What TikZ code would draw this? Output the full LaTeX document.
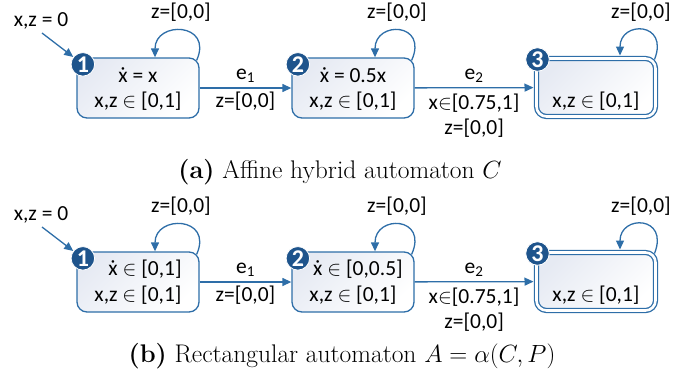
\documentclass[tikz,border=0pt]{standalone}
\usepackage{fontspec}
\newfontfamily\calfont{Carlito}
\usetikzlibrary{arrows.meta}
\definecolor{lblue}{RGB}{46,110,168}
\definecolor{bdark}{RGB}{30,84,140}
\definecolor{boxshade}{RGB}{230,234,243}
\begin{document}
\begin{tikzpicture}[x=1pt,y=-1pt,
  txt/.style={inner sep=0pt, font=\calfont\fontsize{21.5}{24}\selectfont},
  box/.style={draw=lblue, line width=1.3pt, rounded corners=10pt, top color=boxshade, bottom color=white, shading angle=45, minimum width=122pt, minimum height=60pt, inner sep=0pt},
  fbox/.style={box, double=white, double distance=2.6pt, minimum width=119pt, minimum height=58pt, outer sep=3pt},
  badge/.style={circle, fill=bdark, draw=white, line width=0.8pt, minimum size=23.5pt, inner sep=0pt, text=white, font=\calfont\bfseries\fontsize{24}{24}\selectfont},
  arr/.style={draw=lblue, line width=1.3pt, -{Triangle[length=9pt,width=8pt]}},
  captext/.style={inner sep=0pt, font=\fontsize{25.5}{28}\selectfont}
]
\useasboundingbox (0,0) rectangle (673,386);
% ---------- top (a)
\node[box] (b1) at (138,88) {};
\node[box] (b2) at (353,88) {};
\node[fbox] (b3) at (596,87.5) {};
\node[badge] (n1) at ([shift={(6.5,7)}]b1.north west) {1};
\node[badge] (n2) at ([shift={(6.5,7)}]b2.north west) {2};
\node[badge] (n3) at ([shift={(4,4)}]b3.north west) {3};
\node[txt] (t11) at ([yshift=12.5pt]b1.center) {ẋ = x};
\node[txt] (t12) at ([yshift=-13.5pt]b1.center) {x,z $\in$ [0,1]};
\node[txt] (t21) at ([yshift=12.5pt]b2.center) {ẋ = 0.5x};
\node[txt] (t22) at ([yshift=-13.5pt]b2.center) {x,z $\in$ [0,1]};
\node[txt] (t32) at ([yshift=-14pt]b3.center) {x,z $\in$ [0,1]};
\coordinate (i1) at (42,33);
\node[txt] (l0) at (41,21) {x,z = 0};
\draw[arr] (i1) -- (n1);
\draw[arr] ([shift={(-3,3)}]b1.north east) .. controls +(17,-38) and +(0,-37) .. ([xshift=17pt]b1.north);
\draw[arr] ([shift={(-3,3)}]b2.north east) .. controls +(17,-38) and +(0,-37) .. ([xshift=22pt]b2.north);
\draw[arr] ([shift={(-4,4)}]b3.north east) .. controls +(15,-38) and +(0,-35) .. ([xshift=24pt]b3.north);
\node[txt] (s1) at (181,12) {z=[0,0]};
\node[txt] (s2) at (397,12) {z=[0,0]};
\node[txt] (s3) at (641,12) {z=[0,0]};
\draw[arr] (b1) -- node[txt, yshift=12pt] {e\textsubscript{1}} node[txt, yshift=-13pt] {z=[0,0]} (b2);
\draw[arr] (b2) -- node[txt, yshift=12pt] {e\textsubscript{2}} node[txt, yshift=-15pt] {x$\in$[0.75,1]} node[txt, yshift=-40pt] {z=[0,0]} (b3);
\node[captext] (ca) at (340,172) {\textbf{(a)} Affine hybrid automaton $C$};
% ---------- bottom (b)
\node[box] (c1) at (138,282) {};
\node[box] (c2) at (353,282) {};
\node[fbox] (c3) at (596,281.5) {};
\node[badge] (m1) at ([shift={(6.5,7)}]c1.north west) {1};
\node[badge] (m2) at ([shift={(6.5,7)}]c2.north west) {2};
\node[badge] (m3) at ([shift={(4,4)}]c3.north west) {3};
\node[txt] (u11) at ([shift={(7,-12.5)}]c1.center) {ẋ $\in$ [0,1]};
\node[txt] (u12) at ([yshift=-13.5pt]c1.center) {x,z $\in$ [0,1]};
\node[txt] (u21) at ([shift={(5,-12.5)}]c2.center) {ẋ $\in$ [0,0.5]};
\node[txt] (u22) at ([yshift=-13.5pt]c2.center) {x,z $\in$ [0,1]};
\node[txt] (u32) at ([yshift=-14pt]c3.center) {x,z $\in$ [0,1]};
\coordinate (i2) at (42,227);
\node[txt] (k0) at (41,215) {x,z = 0};
\draw[arr] (i2) -- (m1);
\draw[arr] ([shift={(-3,3)}]c1.north east) .. controls +(17,-38) and +(0,-37) .. ([xshift=17pt]c1.north);
\draw[arr] ([shift={(-3,3)}]c2.north east) .. controls +(17,-38) and +(0,-37) .. ([xshift=22pt]c2.north);
\draw[arr] ([shift={(-4,4)}]c3.north east) .. controls +(15,-38) and +(0,-35) .. ([xshift=24pt]c3.north);
\node[txt] (r1) at (181,206) {z=[0,0]};
\node[txt] (r2) at (397,206) {z=[0,0]};
\node[txt] (r3) at (641,206) {z=[0,0]};
\draw[arr] (c1) -- node[txt, yshift=12pt] {e\textsubscript{1}} node[txt, yshift=-13pt] {z=[0,0]} (c2);
\draw[arr] (c2) -- node[txt, yshift=12pt] {e\textsubscript{2}} node[txt, yshift=-15pt] {x$\in$[0.75,1]} node[txt, yshift=-40pt] {z=[0,0]} (c3);
\node[captext] (cb) at (342,356) {\textbf{(b)} Rectangular automaton $A=\alpha(C,P)$};
\end{tikzpicture}
\end{document}
